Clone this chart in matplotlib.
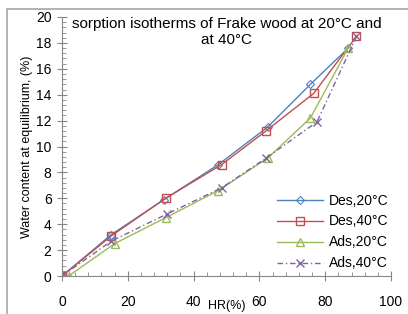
import matplotlib.pyplot as plt
from matplotlib.ticker import MultipleLocator
from matplotlib.patches import Rectangle

hr_des20 = [0, 15, 31, 47.5, 62.5, 75.5, 87]
w_des20 = [0, 3.2, 5.9, 8.6, 11.5, 14.8, 17.6]
hr_des40 = [0, 15, 31.5, 48.5, 62, 76.5, 89.5]
w_des40 = [0, 3.1, 6.0, 8.6, 11.2, 14.1, 18.5]
hr_ads20 = [2, 16, 31.5, 47.5, 62.5, 75.5, 87]
w_ads20 = [0, 2.5, 4.5, 6.6, 9.1, 12.2, 17.6]
hr_ads40 = [0, 15, 32, 48.5, 62, 77.5, 89.5]
w_ads40 = [0, 2.7, 4.8, 6.8, 9.1, 11.9, 18.5]

plt.rcParams['font.family'] = ['Liberation Sans', 'DejaVu Sans']
fig = plt.figure(figsize=(4.08, 3.14), dpi=100)
fig.patches.append(Rectangle((7/408, -0.1), 1.2, (314-9)/314 + 0.1, transform=fig.transFigure,
                             fill=False, edgecolor='#a6a6a6', linewidth=1.2))
ax = fig.add_axes([62/408, 38/314, 329/408, 259/314])

ax.plot(hr_des20, w_des20, color='#4F81BD', lw=1, marker='D', ms=4, mfc='none', mew=0.8, label='Des,20°C')
ax.plot(hr_des40, w_des40, color='#C0504D', lw=1, marker='s', ms=6, mfc='none', mew=1, label='Des,40°C')
ax.plot(hr_ads20, w_ads20, color='#9BBB59', lw=1, marker='^', ms=6, mfc='none', mew=1, label='Ads,20°C')
ax.plot(hr_ads40, w_ads40, color='#8064A2', lw=1, ls=(0, (4, 2, 1, 2)), marker='x', ms=6, mew=1, label='Ads,40°C')

ax.set_xlim(0, 100)
ax.set_ylim(0, 20)
ax.xaxis.set_major_locator(MultipleLocator(20))
ax.xaxis.set_minor_locator(MultipleLocator(4))
ax.yaxis.set_major_locator(MultipleLocator(2))
ax.yaxis.set_minor_locator(MultipleLocator(0.4))
for s in ['top', 'right']:
    ax.spines[s].set_visible(False)
for s in ['left', 'bottom']:
    ax.spines[s].set_color('#868686')
ax.tick_params(which='major', direction='inout', length=7, color='#868686', labelsize=10, pad=4)
ax.tick_params(which='minor', direction='in', length=3, color='#868686')
ax.tick_params(axis='x', pad=10)

ax.set_xlabel('HR(%)', fontsize=9, labelpad=-6)
ax.set_ylabel('Water content at equilibrium, (%)', fontsize=9, labelpad=2)
ax.text(0.50, 1.0, 'sorption isotherms of Frake wood at 20°C and\nat 40°C', transform=ax.transAxes,
        ha='center', va='top', fontsize=11, linespacing=1.2)
ax.legend(loc='center right', bbox_to_anchor=(1.03, 0.17), frameon=False, fontsize=10,
          handlelength=3.3, labelspacing=0.5, handletextpad=0.4)

fig.savefig('out.png', dpi=100)
